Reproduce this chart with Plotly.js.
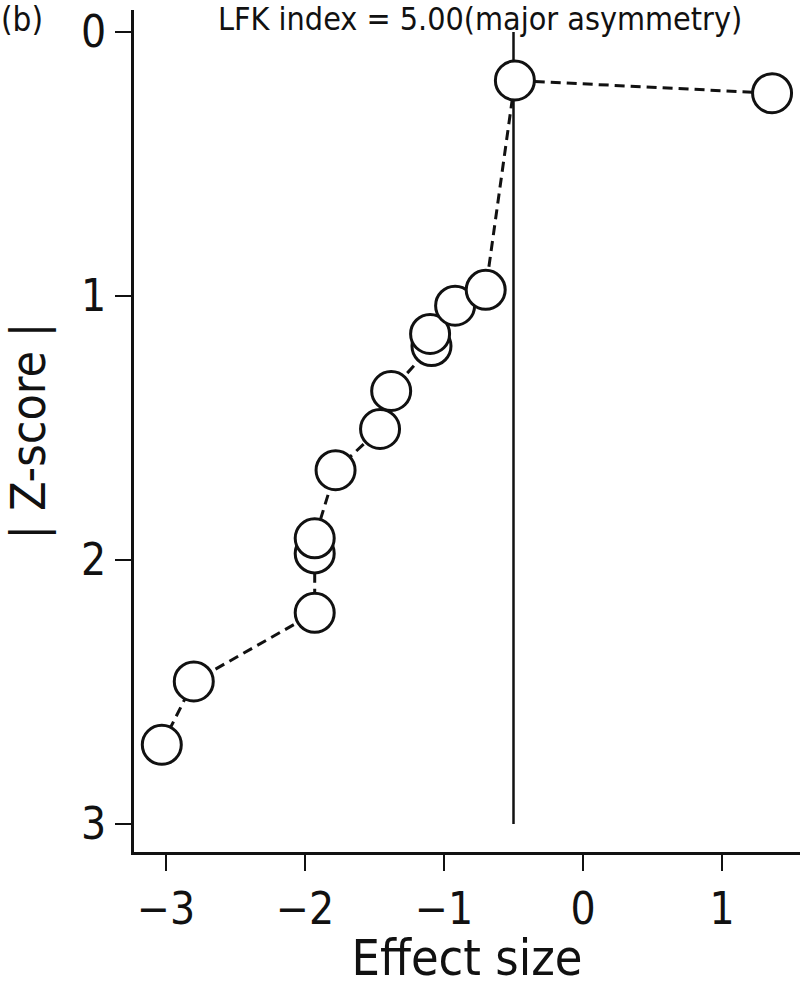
<!DOCTYPE html>
<html>
<head>
<meta charset="utf-8">
<script src="https://cdn.plot.ly/plotly-3.0.1.min.js"></script>
<style>
  html, body { margin: 0; padding: 0; background: #fff; }
  #chart { width: 800px; height: 987px; }
</style>
</head>
<body>
<div id="chart"></div>
<script>
// Doi plot data: effect size vs |Z-score|
const effectSize = [-3.03, -2.80, -1.93, -1.93, -1.93, -1.78, -1.46, -1.38, -1.09, -1.10, -0.92, -0.70, -0.49, 1.36];
const zScore = [2.70, 2.46, 2.20, 1.975, 1.918, 1.66, 1.504, 1.36, 1.19, 1.144, 1.037, 0.977, 0.184, 0.232];

// vertical reference line
const refX = [-0.5, -0.5];
const refY = [0, 3];

const xTicks = [-3, -2, -1, 0, 1];
const yTicks = [0, 1, 2, 3];

const fontFam = '"Liberation Sans Narrow", "DejaVu Sans Condensed", "Arial Narrow", "Liberation Sans", sans-serif';

const traces = [
  {
    x: refX,
    y: refY,
    type: 'scatter',
    mode: 'lines',
    line: { color: '#111', width: 2.5 },
    hoverinfo: 'skip',
  },
  {
    x: effectSize,
    y: zScore,
    type: 'scatter',
    mode: 'lines+markers',
    line: { color: '#111', width: 3, dash: '10px,6px' },
    marker: {
      size: 39,
      color: '#fff',
      line: { color: '#111', width: 3 },
    },
  },
];

const layout = {
  width: 800,
  height: 987,
  margin: { l: 134, r: 0, t: 10, b: 135 },
  paper_bgcolor: '#fff',
  plot_bgcolor: '#fff',
  showlegend: false,
  font: { family: fontFam, color: '#111' },
  xaxis: {
    range: [-3.23, 1.561],
    tickvals: xTicks,
    ticks: 'outside',
    ticklen: 16,
    tickwidth: 2.5,
    tickcolor: '#111',
    showline: true,
    linecolor: '#111',
    linewidth: 3,
    showgrid: false,
    zeroline: false,
    tickfont: { size: 44 },
    title: { text: 'Effect size', font: { size: 50 }, standoff: 20 },
  },
  yaxis: {
    range: [3.106, -0.083],
    tickvals: yTicks,
    ticks: 'outside',
    ticklen: 16,
    tickwidth: 2.5,
    tickcolor: '#111',
    showline: true,
    linecolor: '#111',
    linewidth: 3,
    showgrid: false,
    zeroline: false,
    tickfont: { size: 44 },
    title: { text: '| Z-score |', font: { size: 48 }, standoff: 22 },
  },
  annotations: [
    {
      text: 'LFK index = 5.00(major asymmetry)',
      xref: 'paper',
      yref: 'paper',
      x: 0.52,
      y: 0.989,
      xanchor: 'center',
      yanchor: 'middle',
      showarrow: false,
      font: { size: 32 },
    },
    {
      text: '(b)',
      xref: 'paper',
      yref: 'paper',
      x: -0.202,
      y: 0.989,
      xanchor: 'left',
      yanchor: 'middle',
      showarrow: false,
      font: { size: 33 },
    },
  ],
};

Plotly.newPlot('chart', traces, layout, { displayModeBar: false, staticPlot: true });
</script>
</body>
</html>
